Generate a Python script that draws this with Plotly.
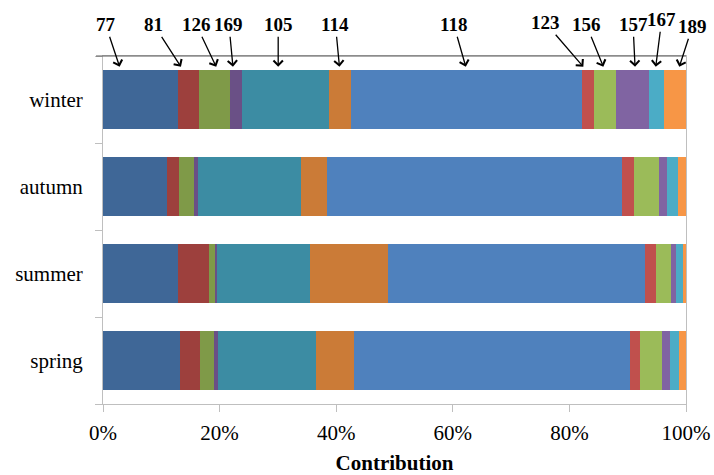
import plotly.graph_objects as go

# ---- data (percent contribution of each source per season) ----
seasons = ["spring", "summer", "autumn", "winter"]
sources = ["77", "81", "126", "169", "105", "114", "118", "123", "156", "157", "167", "189"]

spring = [13.20, 3.48, 2.28, 0.76, 16.73, 6.63, 47.32, 1.77, 3.77, 1.32, 1.59, 1.15]
summer = [12.79, 5.31, 1.15, 0.35, 15.94, 13.32, 44.11, 1.83, 2.63, 0.80, 1.20, 0.57]
autumn = [10.97, 2.11, 2.52, 0.74, 17.66, 4.40, 50.68, 1.95, 4.29, 1.47, 1.84, 1.37]
winter = [12.86, 3.65, 5.31, 2.06, 14.92, 3.77, 39.55, 2.11, 3.82, 5.66, 2.52, 3.77]

x_ticks = [0, 20, 40, 60, 80, 100]

# ---- styles ----
colors = ["#3F6797", "#9D403D", "#7F9A48", "#6A5086", "#3C8CA3", "#CB7B37",
          "#4F81BD", "#C0504D", "#9BBB59", "#8064A2", "#4BACC6", "#F79646"]

# annotation arrow tips (x in % units) and text offsets (pixels)
arrow_tip_x = [2.85, 13.37, 19.42, 22.29, 30.05, 40.56, 62.23, 82.39, 85.82, 91.26, 94.81, 98.85]
arrow_ax = [-14, -27, -20, -4, 0, -4, -12, -38, -17, -2, 6, 13]
arrow_ay = [-42, -42, -42, -42, -42, -42, -42, -44, -42, -42, -47, -40]

FONT = "Liberation Serif"

fig = go.Figure()
season_vals = [spring, summer, autumn, winter]
for i, src in enumerate(sources):
    fig.add_trace(go.Bar(
        y=seasons,
        x=[vals[i] for vals in season_vals],
        name=src,
        orientation="h",
        marker=dict(color=colors[i], line=dict(width=0)),
        showlegend=False,
    ))

annotations = []
for i, src in enumerate(sources):
    annotations.append(dict(
        x=arrow_tip_x[i], y=0.969, xref="x", yref="paper",
        text="<b>%s</b>" % src,
        showarrow=True, arrowhead=4, arrowsize=1.4, arrowwidth=1.3,
        arrowcolor="#000000",
        ax=arrow_ax[i], ay=arrow_ay[i],
        font=dict(family=FONT, size=19, color="#000000"),
    ))

fig.update_layout(
    width=714, height=475,
    margin=dict(l=103, r=28, t=56, b=71, autoexpand=False),
    paper_bgcolor="white", plot_bgcolor="white",
    barmode="stack", bargap=0.333,
    annotations=annotations,
    font=dict(family=FONT, color="#000000"),
    shapes=[dict(type="line", xref="paper", yref="paper", x0=-0.012, x1=1, y0=1, y1=1,
                 line=dict(color="#595959", width=1))],
)
fig.update_xaxes(
    range=[0, 100], tickvals=x_ticks,
    ticktext=["%d%%" % v for v in x_ticks],
    ticks="outside", ticklen=7, tickcolor="#BFBFBF",
    showline=True, linecolor="#BFBFBF", linewidth=1, mirror=True,
    showgrid=False, zeroline=False, automargin=False,
    ticklabelstandoff=3,
    tickfont=dict(family=FONT, size=21, color="#000000"),
    title=dict(text="<b>Contribution</b>", font=dict(family=FONT, size=21, color="#000000"), standoff=14),
)
fig.update_yaxes(
    categoryorder="array", categoryarray=seasons,
    ticks="outside", tickson="boundaries", ticklen=7, tickcolor="#BFBFBF",
    showline=True, linecolor="#BFBFBF", linewidth=1, mirror=True,
    showgrid=False, zeroline=False, automargin=False,
    ticklabelstandoff=15,
    tickfont=dict(family=FONT, size=21, color="#000000"),
)

fig.write_html("out.html")
